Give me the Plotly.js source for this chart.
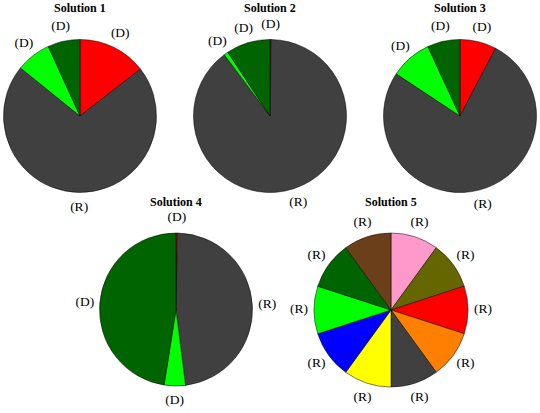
<!DOCTYPE html>
<html>
<head>
<meta charset="utf-8">
<script src="https://cdn.plot.ly/plotly-3.0.1.min.js"></script>
<style>
  html, body { margin: 0; padding: 0; background: #fff; }
  #chart { width: 540px; height: 413px; }
</style>
</head>
<body>
<div id="chart"></div>
<script>
// slice order is clockwise from 12 o'clock
const titles = ['Solution 1', 'Solution 2', 'Solution 3', 'Solution 4', 'Solution 5'];

const sol1Values = [14.5, 71.3, 7.4, 6.8];
const sol2Values = [0.2, 89.6, 0.9, 9.3];
const sol3Values = [7.7, 76.6, 8.8, 6.9];
const sol4Values = [0.3, 47.7, 4.5, 47.5];
const sol5Values = [10, 10, 10, 10, 10, 10, 10, 10, 10, 10];

const fourGroups = ['(D)', '(R)', '(D)', '(D)'];
const sol5Groups = ['(R)', '(R)', '(R)', '(R)', '(R)', '(R)', '(R)', '(R)', '(R)', '(R)'];

const fourColors = ['#FF0000', '#404040', '#00FF00', '#006400'];
const sol5Colors = ['#FF99CC', '#666600', '#FF0000', '#FF8000', '#404040',
                    '#FFFF00', '#0000FF', '#00FF00', '#006400', '#6B3F19'];

const W = 540, H = 413;
const FONT = 'Liberation Serif';
const LABEL_OFFSET = 15;   // label centres sit this many px outside the rim

// pixel centre / radius of each pie
const pies = [
    { cx: 80,  cy: 116,   r: 76.5, values: sol1Values, text: fourGroups, colors: fourColors },
    { cx: 270, cy: 116,   r: 76.5, values: sol2Values, text: fourGroups, colors: fourColors },
    { cx: 460, cy: 116,   r: 76.5, values: sol3Values, text: fourGroups, colors: fourColors },
    { cx: 176, cy: 309.5, r: 76.5, values: sol4Values, text: fourGroups, colors: fourColors },
    { cx: 391, cy: 310,   r: 77,   values: sol5Values, text: sol5Groups, colors: sol5Colors }
];
const titleY = [8, 8, 8, 202, 202];

function domainFor(p) {
    return {
        x: [(p.cx - p.r) / W, (p.cx + p.r) / W],
        y: [1 - (p.cy + p.r) / H, 1 - (p.cy - p.r) / H]
    };
}

// mid angle of every slice, degrees clockwise from 12 o'clock
function midAngles(values) {
    const total = values.reduce((a, b) => a + b, 0);
    let acc = 0;
    return values.map(v => {
        const mid = (acc + v / 2) / total * 360;
        acc += v;
        return mid;
    });
}

const sliceTraces = pies.map(p => ({
    type: 'pie',
    values: p.values,
    sort: false,
    direction: 'clockwise',
    rotation: 0,
    textinfo: 'none',
    hoverinfo: 'none',
    showlegend: false,
    marker: { colors: p.colors, line: { color: '#000', width: 0.5 } },
    domain: domainFor(p)
}));

// (D)/(R) labels, centred on each slice's mid angle just outside the rim;
// drawn on a hidden pixel-scaled cartesian axis covering the whole figure
const labelTraces = pies.map(p => {
    const R = p.r + LABEL_OFFSET;
    const ang = midAngles(p.values).map(a => a * Math.PI / 180);
    return {
        type: 'scatter',
        mode: 'text',
        x: ang.map(a => p.cx + R * Math.sin(a)),
        y: ang.map(a => p.cy - R * Math.cos(a)),
        text: p.text,
        textposition: 'middle center',
        textfont: { family: FONT, size: 13.5, color: '#000' },
        cliponaxis: false,
        hoverinfo: 'none',
        showlegend: false
    };
});

const hiddenAxis = { visible: false, showgrid: false, zeroline: false, fixedrange: true };

const layout = {
    width: W,
    height: H,
    margin: { t: 0, r: 0, b: 0, l: 0 },
    paper_bgcolor: '#fff',
    plot_bgcolor: 'rgba(0,0,0,0)',
    font: { family: FONT, color: '#000' },
    xaxis: { ...hiddenAxis, range: [0, W], domain: [0, 1] },
    yaxis: { ...hiddenAxis, range: [H, 0], domain: [0, 1] },
    annotations: pies.map((p, i) => ({
        text: '<b>' + titles[i] + '</b>',
        xref: 'paper', yref: 'paper',
        x: p.cx / W, y: 1 - titleY[i] / H,
        xanchor: 'center', yanchor: 'middle',
        showarrow: false,
        font: { family: FONT, size: 12, color: '#000' }
    }))
};

Plotly.newPlot('chart', sliceTraces.concat(labelTraces), layout, { displayModeBar: false, staticPlot: true });
</script>
</body>
</html>
